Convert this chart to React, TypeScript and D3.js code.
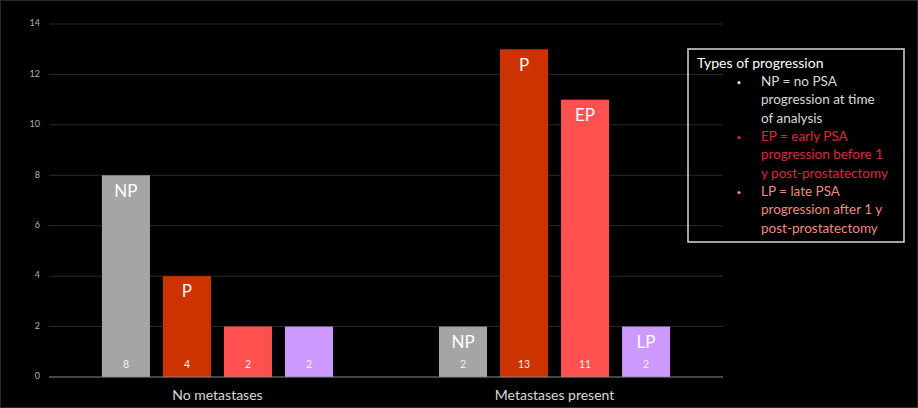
import { scaleBand, scaleLinear, range } from "d3";

const categories = ["No metastases", "Metastases present"];
const seriesKeys = ["NP", "P", "EP", "LP"];
const npValues = [8, 2];
const pValues = [4, 13];
const epValues = [2, 11];
const lpValues = [2, 2];
const npTags = ["NP", "NP"];
const pTags = ["P", "P"];
const epTags = ["", "EP"];
const lpTags = ["", "LP"];
const yTicks = range(0, 15, 2);

const legendTitle = "Types of progression";
const legendItems = [
  { lines: ["NP = no PSA", "progression at time", "of analysis"], color: "#d9d9d9" },
  { lines: ["EP = early PSA", "progression before 1", "y post-prostatectomy"], color: "#e0233f" },
  { lines: ["LP = late PSA", "progression after 1 y", "post-prostatectomy"], color: "#f08a7e" }
];

const seriesValues = [npValues, pValues, epValues, lpValues];
const seriesTags = [npTags, pTags, epTags, lpTags];
const seriesColors = ["#a5a5a5", "#cc3300", "#ff5050", "#cc99ff"];

const WIDTH = 918;
const HEIGHT = 408;
const PLOT_LEFT = 49;
const PLOT_RIGHT = 723;
const PLOT_TOP = 24;
const PLOT_BOTTOM = 377;
const FONT = "Lato, 'Open Sans', sans-serif";

export default function App() {
  const x0 = scaleBand<string>()
    .domain(categories)
    .range([PLOT_LEFT, PLOT_RIGHT])
    .paddingInner(0.3145)
    .paddingOuter(0.157);
  const x1 = scaleBand<string>()
    .domain(seriesKeys)
    .range([0, x0.bandwidth()])
    .paddingInner(0.213)
    .paddingOuter(0);
  const y = scaleLinear().domain([0, 14]).range([PLOT_BOTTOM, PLOT_TOP]);

  const lineHeight = 18.3;
  let lineIndex = 0;

  return (
    <div style={{ position: "fixed", left: 0, top: 0 }}>
      <svg width={WIDTH} height={HEIGHT} style={{ display: "block", background: "#000", fontFamily: FONT }}>
        <rect x={0.5} y={0.5} width={WIDTH - 1} height={HEIGHT - 1} fill="none" stroke="#2a2a2a" />

        {yTicks.map((tick) => (
          <g key={tick}>
            {tick > 0 ? (
              <line x1={PLOT_LEFT} x2={PLOT_RIGHT} y1={y(tick)} y2={y(tick)} stroke="#2b2b2b" strokeWidth={1} />
            ) : null}
            <text
              x={40}
              y={y(tick)}
              textAnchor="end"
              dominantBaseline="middle"
              fontSize={9}
              fill="#b0b0b0"
            >
              {tick}
            </text>
          </g>
        ))}

        {categories.map((category, ci) => (
          <g key={category} transform={`translate(${x0(category)},0)`}>
            {seriesKeys.map((key, si) => {
              const value = seriesValues[si][ci];
              const bx = x1(key) ?? 0;
              const bw = x1.bandwidth();
              const top = y(value);
              const tag = seriesTags[si][ci];
              return (
                <g key={key}>
                  <rect x={bx} y={top} width={bw} height={y(0) - top} fill={seriesColors[si]} />
                  {tag ? (
                    <text
                      x={bx + bw / 2}
                      y={top + 17}
                      textAnchor="middle"
                      dominantBaseline="middle"
                      fontSize={17}
                      fill="#ffffff"
                    >
                      {tag}
                    </text>
                  ) : null}
                  <text
                    x={bx + bw / 2}
                    y={y(0) - 12}
                    textAnchor="middle"
                    dominantBaseline="middle"
                    fontSize={10.5}
                    fill="#f2f2f2"
                  >
                    {value}
                  </text>
                </g>
              );
            })}
            <text
              x={x0.bandwidth() / 2}
              y={396}
              textAnchor="middle"
              dominantBaseline="middle"
              fontSize={14}
              fill="#d9d9d9"
            >
              {category}
            </text>
          </g>
        ))}

        <line x1={PLOT_LEFT} x2={PLOT_RIGHT} y1={y(0)} y2={y(0)} stroke="#8c8c8c" strokeWidth={1.2} />

        <g>
          <rect x={688} y={49} width={216} height={193} fill="none" stroke="#d9d9d9" strokeWidth={1.5} />
          <text x={697} y={64} dominantBaseline="middle" fontSize={14} fill="#ffffff">
            {legendTitle}
          </text>
          {legendItems.map((item) => (
            <g key={item.lines[0]} fill={item.color}>
              {item.lines.map((text, li) => {
                const cy = 82.7 + lineHeight * lineIndex++;
                return (
                  <g key={text}>
                    {li === 0 ? <circle cx={739} cy={cy} r={1.6} /> : null}
                    <text x={761} y={cy} dominantBaseline="middle" fontSize={13.5}>
                      {text}
                    </text>
                  </g>
                );
              })}
            </g>
          ))}
        </g>
      </svg>
    </div>
  );
}
